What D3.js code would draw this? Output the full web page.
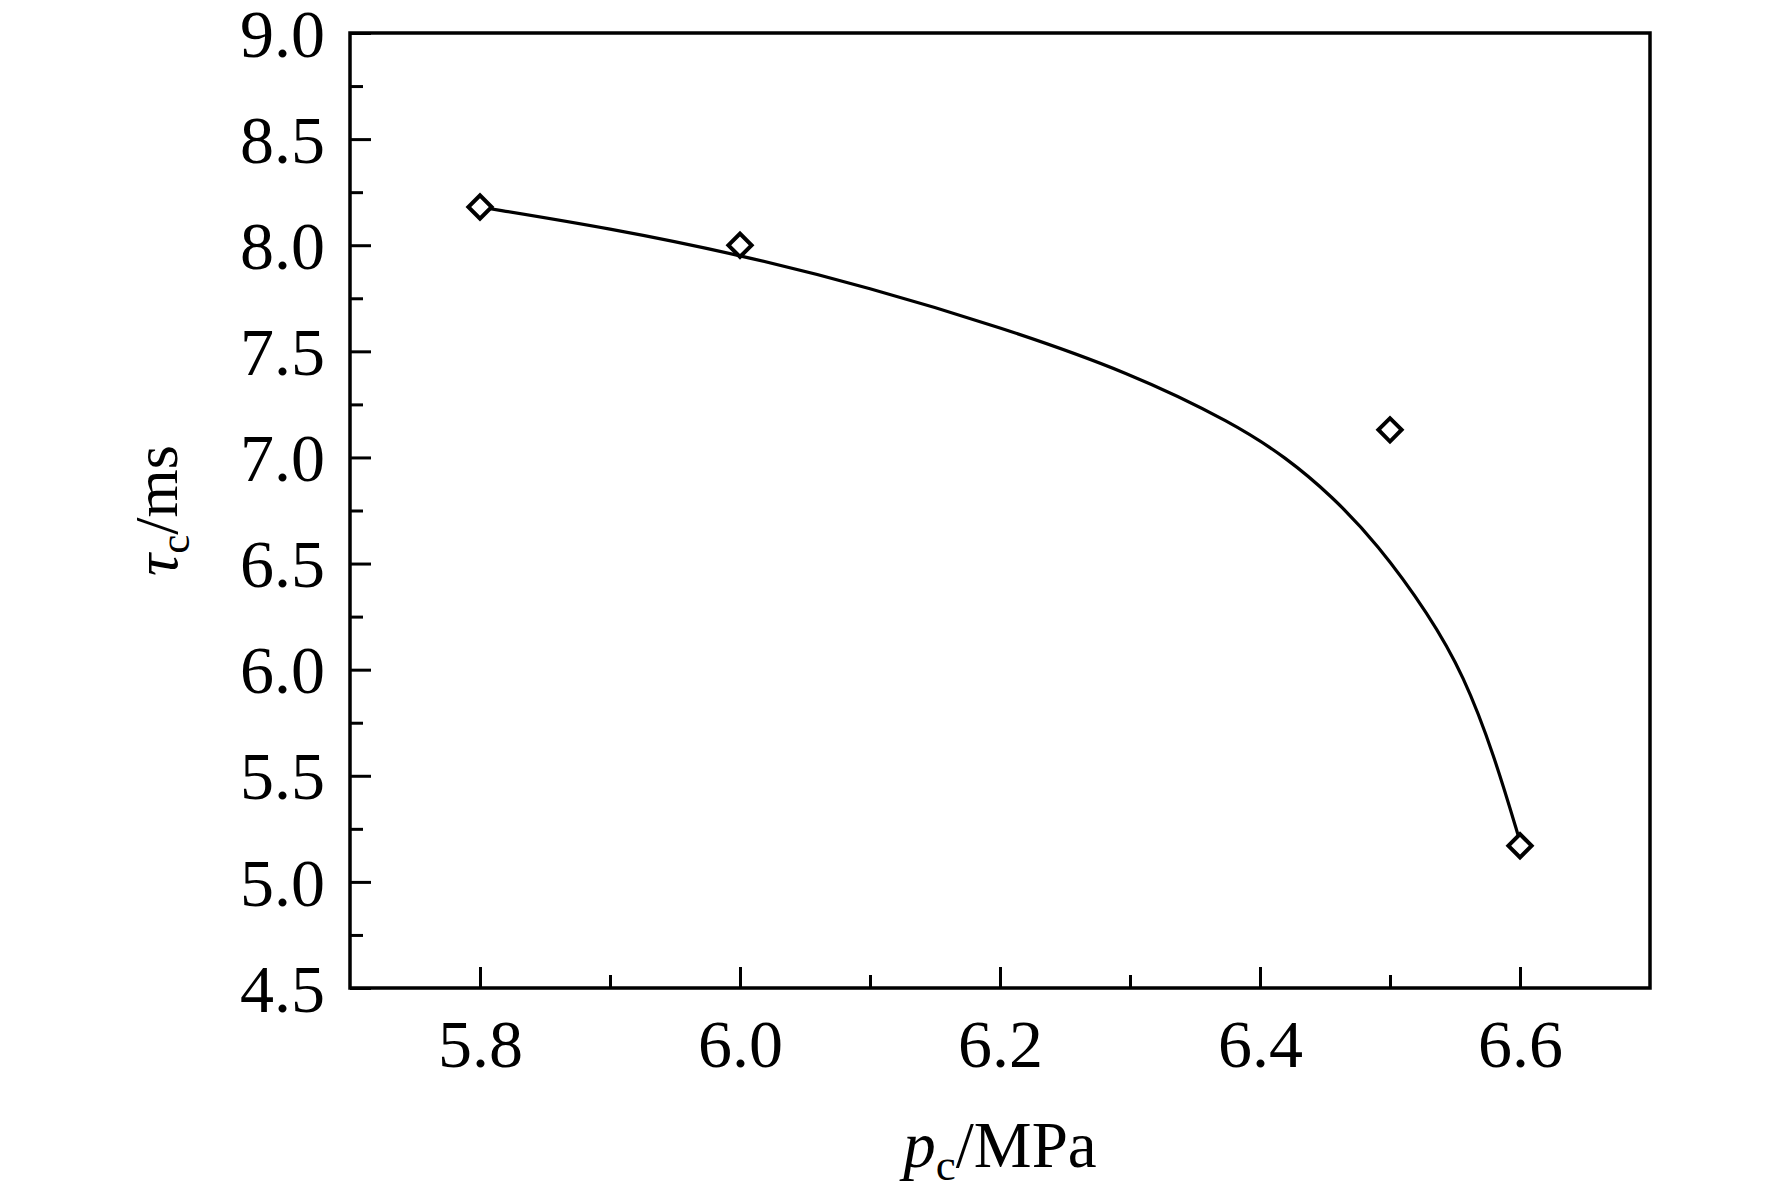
<!DOCTYPE html>
<html>
<head>
<meta charset="utf-8">
<script src="https://cdn.jsdelivr.net/npm/d3@7"></script>
<style>
  body { margin: 0; background: #fff; }
  text { font-family: "Times New Roman", "Liberation Serif", serif; fill: #000; }
</style>
</head>
<body>
<div class="chart"></div>
<script>
// measured points (p_c in MPa, tau_c in ms)
const pointP = [5.8, 6.0, 6.5, 6.6];
const pointTau = [8.18, 8.0, 7.13, 5.17];

// fitted curve
const curveP = [5.8, 5.9, 6.0, 6.1, 6.2, 6.3, 6.38, 6.42, 6.455, 6.49, 6.53, 6.557, 6.58, 6.6];
const curveTau = [8.18, 8.08, 7.955, 7.80, 7.615, 7.40, 7.16, 7.00, 6.82, 6.595, 6.26, 5.97, 5.60, 5.19];

const xTicks = [5.8, 6.0, 6.2, 6.4, 6.6];
const xMinor = [5.9, 6.1, 6.3, 6.5];
const yTicks = [4.5, 5.0, 5.5, 6.0, 6.5, 7.0, 7.5, 8.0, 8.5, 9.0];
const yMinor = [4.75, 5.25, 5.75, 6.25, 6.75, 7.25, 7.75, 8.25, 8.75];

const width = 1772;
const height = 1200;
const margin = {left: 350, right: 122, top: 33, bottom: 212};

const svg = d3.select('.chart')
    .append('svg')
    .attr('width', width)
    .attr('height', height);

const x = d3.scaleLinear()
    .domain([5.7, 6.7])
    .range([margin.left, width - margin.right]);

const y = d3.scaleLinear()
    .domain([4.5, 9.0])
    .range([height - margin.bottom, margin.top]);

//major and minor ticks pointing inward
const xAxis = svg.append('g')
    .attr('transform', `translate(0,${height - margin.bottom})`)
    .call(d3.axisBottom(x).tickValues(xTicks).tickSize(-21).tickPadding(31).tickFormat(d3.format('.1f')));
svg.append('g')
    .attr('transform', `translate(0,${height - margin.bottom})`)
    .call(d3.axisBottom(x).tickValues(xMinor).tickSize(-13).tickFormat(''));

const yAxis = svg.append('g')
    .attr('transform', `translate(${margin.left},0)`)
    .call(d3.axisLeft(y).tickValues(yTicks).tickSize(-21).tickPadding(25).tickFormat(d3.format('.1f')));
svg.append('g')
    .attr('transform', `translate(${margin.left},0)`)
    .call(d3.axisLeft(y).tickValues(yMinor).tickSize(-13).tickFormat(''));

svg.selectAll('.domain').remove();
svg.selectAll('.tick line').attr('stroke', '#000').attr('stroke-width', 3);
xAxis.selectAll('.tick text')
    .attr('font-size', 68)
    .attr('dy', '0.71em')
    .style('font-family', '"Times New Roman", "Liberation Serif", serif');
yAxis.selectAll('.tick text')
    .attr('font-size', 68)
    .attr('dy', '0.34em')
    .style('font-family', '"Times New Roman", "Liberation Serif", serif');

//frame
svg.append('rect')
    .attr('x', x(5.7))
    .attr('y', y(9.0))
    .attr('width', x(6.7) - x(5.7))
    .attr('height', y(4.5) - y(9.0))
    .attr('fill', 'none')
    .attr('stroke', '#000')
    .attr('stroke-width', 3.5);

//fitted curve, smoothed with a b-spline through the read-off points
const curveData = curveP.map((p, i) => ({p: p, t: curveTau[i]}));
const line = d3.line()
    .x(d => x(d.p))
    .y(d => y(d.t))
    .curve(d3.curveBasis);

svg.append('path')
    .datum(curveData)
    .attr('d', line)
    .attr('fill', 'none')
    .attr('stroke', '#000')
    .attr('stroke-width', 3.2);

//diamond markers
const points = pointP.map((p, i) => ({p: p, t: pointTau[i]}));
svg.selectAll('.marker')
    .data(points)
    .enter()
    .append('path')
    .attr('class', 'marker')
    .attr('d', d3.symbol().type(d3.symbolSquare).size(270))
    .attr('transform', d => `translate(${x(d.p)},${y(d.t)}) rotate(45)`)
    .attr('fill', '#fff')
    .attr('stroke', '#000')
    .attr('stroke-width', 4);

//axis titles
const xt = svg.append('text')
    .attr('x', (x(5.7) + x(6.7)) / 2)
    .attr('y', 1167)
    .attr('text-anchor', 'middle')
    .attr('font-size', 65);
xt.append('tspan').attr('font-style', 'italic').text('p');
xt.append('tspan').attr('font-size', 45).attr('dy', 13).text('c');
xt.append('tspan').attr('dy', -13).text('/MPa');

const yt = svg.append('text')
    .attr('transform', `translate(177,${(y(4.5) + y(9.0)) / 2}) rotate(-90)`)
    .attr('text-anchor', 'middle')
    .attr('font-size', 62);
yt.append('tspan').attr('font-style', 'italic').text('τ');
yt.append('tspan').attr('font-size', 43).attr('dy', 12).text('c');
yt.append('tspan').attr('dy', -12).text('/ms');
</script>
</body>
</html>
